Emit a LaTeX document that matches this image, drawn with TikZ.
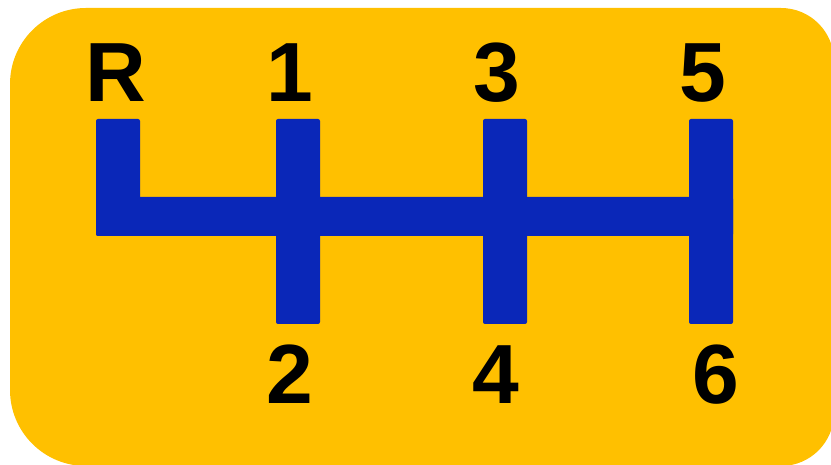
\documentclass[tikz,border=0pt]{standalone}
\usepackage{fontspec}
\setmainfont{Liberation Sans}
\definecolor{panel}{HTML}{FFC000}
\definecolor{gate}{HTML}{0A27B8}
\begin{document}
\begin{tikzpicture}[x=1pt,y=1pt,
  bar/.style={fill=gate, rounded corners=2pt},
  gear/.style={font=\fontsize{84}{84}\selectfont\bfseries, text=black, anchor=base, inner sep=0pt}]
\useasboundingbox (0,0) rectangle (831,465);
\begin{scope}
\clip (0,0) rectangle (831,465);
\fill[panel] (10,75) -- (10,381) arc[start angle=180, end angle=90, radius=76]
  -- (781,457) arc[start angle=90, end angle=0, radius=53]
  -- (834,52) arc[start angle=0, end angle=-90, radius=53]
  -- (86,-1) arc[start angle=-90, end angle=-180, radius=76] -- cycle;
\end{scope}
% shift gate
\fill[bar] (96,229) rectangle (733,268);
\fill[bar] (96,229) rectangle (140,346);
\fill[bar] (276,141) rectangle (320,346);
\fill[bar] (483,141) rectangle (527,346);
\fill[bar] (689,141) rectangle (733,346);
% gear labels
\node[gear] (gR) at (116,363) {R};
\node[gear] (g1) at (290,363) {1};
\node[gear] (g3) at (497,363) {3};
\node[gear] (g5) at (703,363) {5};
\node[gear] (g2) at (290,61) {2};
\node[gear] (g4) at (496,61) {4};
\node[gear] (g6) at (716,61) {6};
\end{tikzpicture}
\end{document}
